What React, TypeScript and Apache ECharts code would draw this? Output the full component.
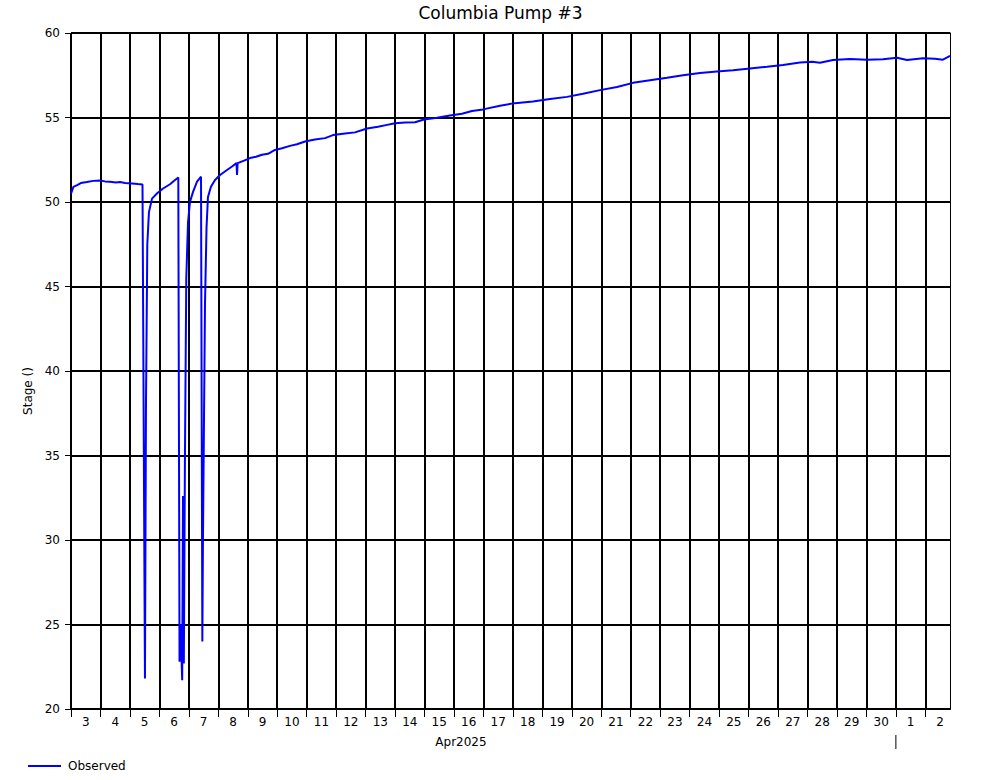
import React, { useEffect, useRef } from "react";
import * as echarts from "echarts";

const FONT = "DejaVu Sans";

const TITLE = "Columbia Pump #3";
const SERIES_NAME = "Observed";
const Y_NAME = "Stage ()";
const MONTH_LABEL = "Apr2025";

const START = "2025-04-03 00:00";
const END = "2025-05-02 20:05";
const MONTH_BOUNDARY = "2025-05-01 00:00";

const Y_MIN = 20;
const Y_MAX = 60;
const Y_STEP = 5;

const dayLabels = [
  "3", "4", "5", "6", "7", "8", "9", "10", "11", "12", "13", "14", "15", "16", "17",
  "18", "19", "20", "21", "22", "23", "24", "25", "26", "27", "28", "29", "30", "1", "2",
];

const times = [
  "2025-04-03 00:00", "2025-04-03 02:00", "2025-04-03 05:00", "2025-04-03 08:00",
  "2025-04-03 13:00", "2025-04-03 18:00", "2025-04-03 23:40", "2025-04-04 03:40",
  "2025-04-04 07:50", "2025-04-04 12:40", "2025-04-04 16:00", "2025-04-04 20:00",
  "2025-04-05 01:40", "2025-04-05 06:30", "2025-04-05 10:15", "2025-04-05 12:15",
  "2025-04-05 13:05", "2025-04-05 14:10", "2025-04-05 15:30", "2025-04-05 18:00",
  "2025-04-05 22:00", "2025-04-06 03:00", "2025-04-06 08:40", "2025-04-06 12:45",
  "2025-04-06 15:25", "2025-04-06 16:25", "2025-04-06 17:10", "2025-04-06 18:35",
  "2025-04-06 19:15", "2025-04-06 19:55", "2025-04-06 20:50", "2025-04-06 21:55",
  "2025-04-06 23:20", "2025-04-07 00:55", "2025-04-07 03:25", "2025-04-07 06:40",
  "2025-04-07 09:55", "2025-04-07 11:00", "2025-04-07 11:30", "2025-04-07 13:10",
  "2025-04-07 14:25", "2025-04-07 15:35", "2025-04-07 18:00", "2025-04-07 21:20",
  "2025-04-08 01:25", "2025-04-08 06:15", "2025-04-08 11:10", "2025-04-08 14:50",
  "2025-04-08 15:15", "2025-04-08 15:45", "2025-04-08 21:00", "2025-04-09 01:50",
  "2025-04-09 06:45", "2025-04-09 11:35", "2025-04-09 16:30", "2025-04-09 22:10",
  "2025-04-10 03:55", "2025-04-10 10:25", "2025-04-10 16:05", "2025-04-10 22:40",
  "2025-04-11 06:45", "2025-04-11 15:00", "2025-04-11 21:25", "2025-04-12 07:15",
  "2025-04-12 15:20", "2025-04-13 01:10", "2025-04-13 10:05", "2025-04-13 16:35",
  "2025-04-13 23:55", "2025-04-14 08:05", "2025-04-14 16:15", "2025-04-14 23:35",
  "2025-04-15 10:10", "2025-04-15 20:45", "2025-04-16 06:30", "2025-04-16 14:40",
  "2025-04-16 23:40", "2025-04-17 13:30", "2025-04-18 01:40", "2025-04-18 16:20",
  "2025-04-19 06:15", "2025-04-19 20:05", "2025-04-20 09:05", "2025-04-20 23:00",
  "2025-04-21 12:50", "2025-04-22 01:50", "2025-04-22 15:40", "2025-04-23 05:35",
  "2025-04-23 18:35", "2025-04-24 08:25", "2025-04-24 22:15", "2025-04-25 11:20",
  "2025-04-26 01:10", "2025-04-26 15:00", "2025-04-27 04:00", "2025-04-27 17:55",
  "2025-04-28 03:40", "2025-04-28 10:10", "2025-04-28 20:45", "2025-04-29 10:40",
  "2025-04-30 00:30", "2025-04-30 13:30", "2025-05-01 00:55", "2025-05-01 09:05",
  "2025-05-01 22:05", "2025-05-02 07:50", "2025-05-02 14:20", "2025-05-02 20:05",
];

const stage = [
  50.5, 50.9, 51.0, 51.12,
  51.18, 51.25, 51.27, 51.22,
  51.2, 51.16, 51.18, 51.12,
  51.1, 51.06, 51.04, 21.8,
  38.0, 47.5, 49.4, 50.2,
  50.5, 50.8, 51.05, 51.3,
  51.45, 22.8, 25.0, 21.7,
  32.6, 22.7, 35.0, 45.5,
  48.8, 50.0, 50.6, 51.2,
  51.5, 24.0, 30.0, 44.0,
  48.5, 50.3, 50.9, 51.3,
  51.6, 51.85, 52.1, 52.3,
  51.6, 52.3, 52.45, 52.6,
  52.68, 52.8, 52.85, 53.08,
  53.18, 53.32, 53.42, 53.58,
  53.7, 53.78, 53.96, 54.05,
  54.12, 54.35, 54.45, 54.55,
  54.66, 54.7, 54.72, 54.88,
  54.98, 55.12, 55.22, 55.38,
  55.48, 55.7, 55.85, 55.95,
  56.1, 56.22, 56.4, 56.62,
  56.8, 57.05, 57.2, 57.35,
  57.5, 57.63, 57.72, 57.8,
  57.9, 58.0, 58.1, 58.25,
  58.3, 58.24, 58.4, 58.46,
  58.42, 58.44, 58.54, 58.4,
  58.5, 58.47, 58.42, 58.64,
];

const DAY_MS = 86400000;
const toMs = (s: string) => Date.parse(s.replace(" ", "T") + ":00Z");
const T0 = toMs(START);
const toDay = (s: string) => (toMs(s) - T0) / DAY_MS;

export default function App() {
  const ref = useRef<HTMLDivElement>(null);

  useEffect(() => {
    if (!ref.current) return;
    const chart = echarts.init(ref.current, undefined, { renderer: "svg" });

    const data = times.map((t, i) => [toDay(t), stage[i]]);
    const xMax = toDay(END);
    const tickValues = dayLabels.map((_, i) => i);
    const labelValues = dayLabels.map((_, i) => i + 0.5);

    const option: any = {
      animation: false,
      backgroundColor: "#ffffff",
      title: {
        text: TITLE,
        left: "center",
        top: -1,
        textStyle: { fontFamily: FONT, fontSize: 17, fontWeight: "normal", color: "#000" },
      },
      legend: {
        left: 23,
        top: 755,
        itemWidth: 33,
        itemHeight: 2,
        itemGap: 10,
        data: [{ name: SERIES_NAME, icon: "rect" }],
        itemStyle: { color: "#0000ff" },
        textStyle: { fontFamily: FONT, fontSize: 12, color: "#000", padding: [0, 0, 0, 2] },
      },
      grid: { left: 71, right: 51, top: 33, bottom: 71, containLabel: false },
      xAxis: [
        {
          type: "value",
          min: 0,
          max: xMax,
          interval: 1,
          axisLine: { show: true, lineStyle: { color: "#000", width: 2 } },
          axisTick: {
            show: true,
            customValues: tickValues,
            length: 8,
            lineStyle: { color: "#000", width: 1 },
          },
          axisLabel: {
            customValues: labelValues,
            formatter: (v: number) => dayLabels[Math.floor(v)] ?? "",
            fontFamily: FONT,
            fontSize: 12,
            color: "#000",
            margin: 7,
          },
          splitLine: { show: true, lineStyle: { color: "#000", width: 2 } },
        },
      ],
      yAxis: [
        {
          type: "value",
          min: Y_MIN,
          max: Y_MAX,
          interval: Y_STEP,
          offset: 2,
          name: Y_NAME,
          nameLocation: "middle",
          nameGap: 33,
          nameTextStyle: {
            fontFamily: FONT,
            fontSize: 12,
            color: "#000",
            padding: [0, 40, 0, 0],
          },
          axisLine: { show: true, lineStyle: { color: "#000", width: 1 } },
          axisTick: { show: true, length: 6, lineStyle: { color: "#000", width: 1 } },
          axisLabel: { fontFamily: FONT, fontSize: 12, color: "#000", margin: 9 },
          splitLine: { show: true, lineStyle: { color: "#000", width: 2 } },
        },
        {
          type: "value",
          position: "right",
          min: Y_MIN,
          max: Y_MAX,
          interval: Y_STEP,
          axisLine: { show: true, lineStyle: { color: "#000", width: 1 } },
          axisTick: { show: false },
          axisLabel: { show: false },
          splitLine: { show: false },
        },
      ],
      series: [
        {
          name: SERIES_NAME,
          type: "line",
          data,
          symbol: "none",
          showSymbol: false,
          lineStyle: { color: "#0000ff", width: 2 },
          itemStyle: { color: "#0000ff" },
        },
      ],
    };

    chart.setOption(option);

    const xMay = chart.convertToPixel({ xAxisIndex: 0 }, toDay(MONTH_BOUNDARY)) as number;
    chart.setOption({
      graphic: [
        {
          type: "line",
          shape: { x1: xMay, y1: 735, x2: xMay, y2: 749 },
          style: { stroke: "#000", lineWidth: 1 },
        },
        {
          type: "text",
          x: 461,
          y: 742,
          style: {
            text: MONTH_LABEL,
            fontFamily: FONT,
            fontSize: 12,
            fill: "#000",
            align: "center",
            verticalAlign: "middle",
          },
        },
      ],
    });

    return () => chart.dispose();
  }, []);

  return (
    <div
      ref={ref}
      style={{ position: "absolute", left: 0, top: 0, width: 1001, height: 780 }}
    />
  );
}
